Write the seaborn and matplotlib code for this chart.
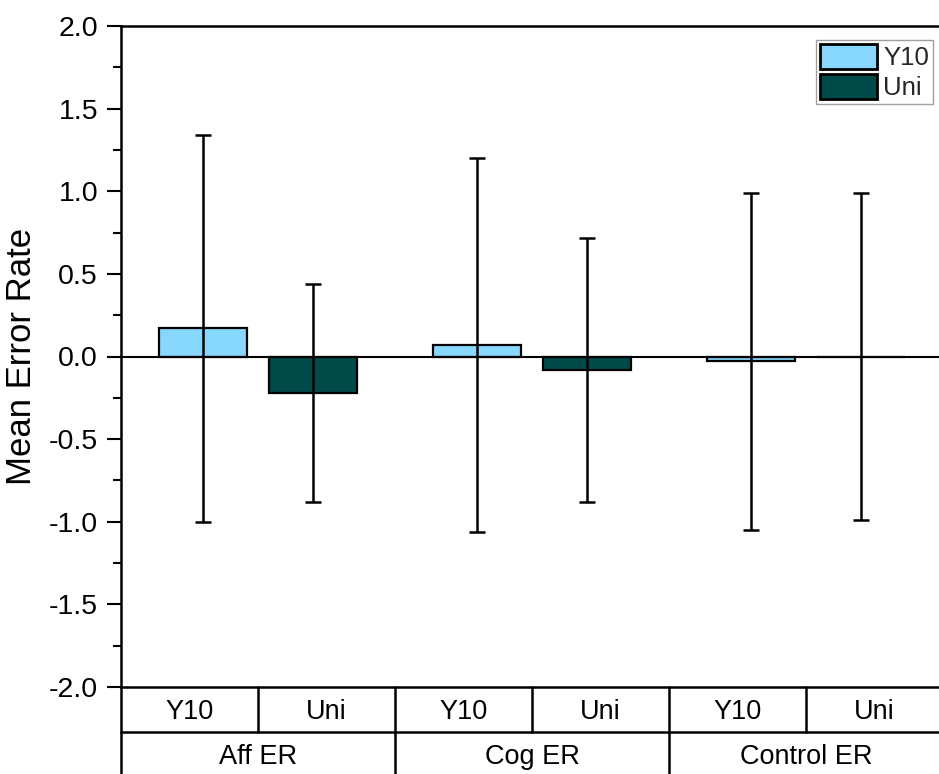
import matplotlib
matplotlib.use("Agg")
import matplotlib.pyplot as plt
import matplotlib.transforms as mtransforms
from matplotlib.ticker import MultipleLocator
import numpy as np
import pandas as pd
import seaborn as sns

# Data: mean error rate per group and cohort, with SD error bars
groups = ["Aff ER", "Cog ER", "Control ER"]
cohorts = ["Y10", "Uni"]
y10_mean = [0.17, 0.07, -0.03]
uni_mean = [-0.22, -0.08, 0.0]
y10_err = [1.17, 1.13, 1.02]
uni_err = [0.66, 0.80, 0.99]
colors = {"Y10": "#87D7FF", "Uni": "#004A4A"}
y_ticks = [-2.0, -1.5, -1.0, -0.5, 0.0, 0.5, 1.0, 1.5, 2.0]

means = {"Y10": y10_mean, "Uni": uni_mean}
errs = {"Y10": y10_err, "Uni": uni_err}
df = pd.DataFrame({
    "group": [g for c in cohorts for g in groups],
    "cohort": [c for c in cohorts for _ in groups],
    "value": [v for c in cohorts for v in means[c]],
})

sns.set_theme(style="ticks")
plt.rcParams["font.family"] = ["Liberation Sans", "DejaVu Sans"]

fig = plt.figure(figsize=(9.39, 7.74), dpi=100)
ax = fig.add_axes([121 / 939, 1 - 687 / 774, (943 - 121) / 939, (687 - 26) / 774])

sns.barplot(data=df, x="group", y="value", hue="cohort", order=groups,
            hue_order=cohorts, palette=colors, width=0.8, gap=0.2,
            saturation=1, errorbar=None, edgecolor="black", linewidth=1.6,
            ax=ax)

# Error bars centred on each drawn bar
for cohort, container in zip(cohorts, ax.containers):
    xs = [p.get_x() + p.get_width() / 2 for p in container.patches]
    ax.errorbar(xs, means[cohort], yerr=errs[cohort], fmt="none",
                ecolor="black", elinewidth=1.8, capsize=5.5, capthick=1.8,
                zorder=5)

ax.axhline(0, color="black", linewidth=1.5, zorder=4)

ax.set_xlim(-0.5, 2.5)
ax.set_ylim(-2.0, 2.0)
ax.set_yticks(y_ticks)
ax.set_yticklabels([f"{t:.1f}" for t in y_ticks])
ax.yaxis.set_minor_locator(MultipleLocator(0.25))
ax.tick_params(axis="y", which="major", length=10, width=1.5, labelsize=20.5,
               pad=6.5, direction="out", color="black", labelcolor="black")
ax.tick_params(axis="y", which="minor", length=5.5, width=1.5,
               direction="out", color="black")
ax.tick_params(axis="x", which="both", bottom=False, labelbottom=False)
ax.set_xlabel("")
ax.set_ylabel("Mean Error Rate", fontsize=25, labelpad=8, color="black")

for side in ["left", "top", "bottom", "right"]:
    ax.spines[side].set_visible(True)
    ax.spines[side].set_linewidth(1.8)
    ax.spines[side].set_color("black")

# Two-row category table beneath the axis
trans = mtransforms.blended_transform_factory(ax.transData, ax.transAxes)
axes_h = 687 - 26
row1_bottom = -(732 - 687) / axes_h
row1_base = -(719 - 687) / axes_h
row2_base = -(764 - 687) / axes_h
row2_bottom = -0.2
lw = 1.8
ax.plot([-0.5, 2.5], [row1_bottom, row1_bottom], transform=trans,
        color="black", lw=lw, clip_on=False)
for i, g in enumerate(groups):
    for j, c in enumerate(cohorts):
        cx = i - 0.25 + 0.5 * j
        ax.text(cx, row1_base, c, transform=trans, ha="center",
                va="baseline", fontsize=19.5, color="black")
    ax.text(i, row2_base, g, transform=trans, ha="center", va="baseline",
            fontsize=19.5, color="black")
for k in range(7):
    xb = -0.5 + 0.5 * k
    ax.plot([xb, xb], [0, row1_bottom], transform=trans, color="black",
            lw=lw, clip_on=False)
for k in range(4):
    xb = -0.5 + k
    ax.plot([xb, xb], [row1_bottom, row2_bottom], transform=trans,
            color="black", lw=lw, clip_on=False)

# Legend
handles, labels = ax.get_legend_handles_labels()
leg = ax.legend(handles, labels, loc="upper right",
                bbox_to_anchor=(933 / 939, 1 - 40 / 774),
                bbox_transform=fig.transFigure, borderaxespad=0,
                fontsize=18.5, handlelength=2.2, handleheight=1.15,
                labelspacing=0.14, handletextpad=0.25, borderpad=0.15,
                fancybox=False, frameon=True)
leg.get_frame().set_edgecolor("#888888")
leg.get_frame().set_linewidth(1.0)
for h in leg.legend_handles:
    h.set_edgecolor("black")
    h.set_linewidth(2.0)

fig.savefig("out.png", dpi=100)
